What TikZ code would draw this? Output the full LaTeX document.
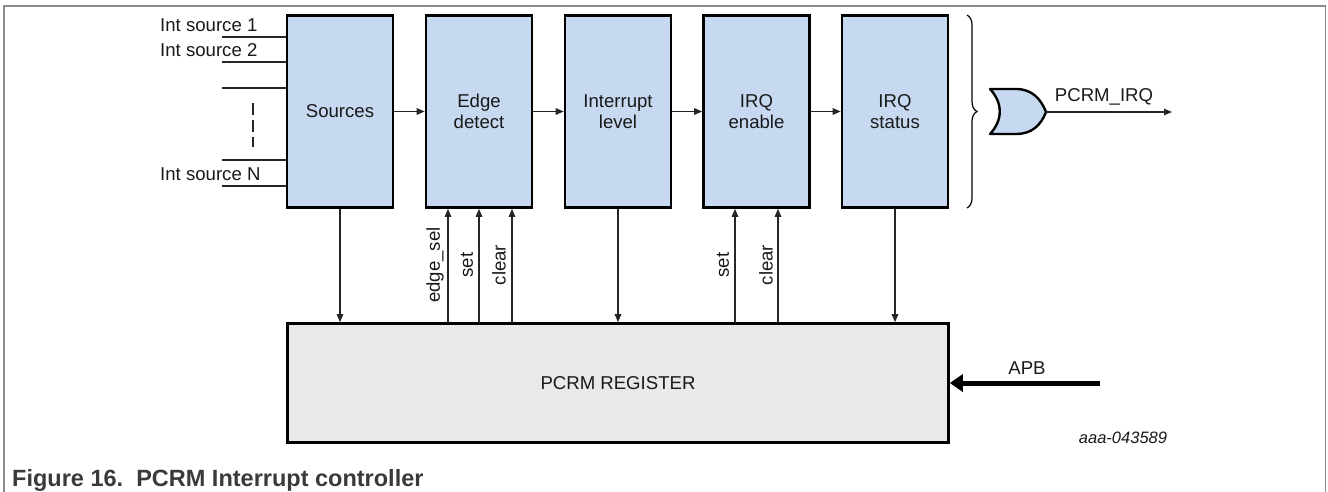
\documentclass[tikz,border=0pt]{standalone}
\usepackage{fontspec}
\setmainfont{Liberation Sans}
\usetikzlibrary{arrows.meta,decorations.pathreplacing}
\definecolor{blkblue}{HTML}{C6D9F0}
\definecolor{reggray}{HTML}{E8E9E8}
\definecolor{framegray}{HTML}{8C8C8C}
\definecolor{captxt}{HTML}{3A3A3A}
\begin{document}
\begin{tikzpicture}[x=1pt,y=-1pt,
  every node/.style={font=\fontsize{18.6}{21}\selectfont, text=black!90},
  blk/.style={draw=black, line width=2.6pt, fill=blkblue, minimum width=106pt, minimum height=192pt, inner sep=0pt, align=center},
  regbox/.style={draw=black, line width=2.6pt, fill=reggray, minimum width=661pt, minimum height=119pt, inner sep=0pt},
  conn/.style={line width=1.3pt, draw=black!85},
  arr/.style={conn, -{Triangle[length=8pt,width=6.5pt]}},
  vlabel/.style={rotate=90, inner sep=0pt}
]
\useasboundingbox (0,0) rectangle (1328,492);
% frame
\draw[framegray, line width=1.5pt] (4,492) -- (4,6) -- (1325.5,6) -- (1325.5,492);

% blocks
\node[blk] (src) at (340,111.5) {Sources};
\node[blk] (ed)  at (479,111.5) {Edge\\detect};
\node[blk] (il)  at (618,111.5) {Interrupt\\level};
\node[blk] (ie)  at (756.5,111.5) {IRQ\\enable};
\node[blk] (is)  at (895,111.5) {IRQ\\status};
\node[regbox] (reg) at (618,383) {PCRM REGISTER};

% horizontal chain
\draw[arr] (src.east) -- (ed.west);
\draw[arr] (ed.east) -- (il.west);
\draw[arr] (il.east) -- (ie.west);
\draw[arr] (ie.east) -- (is.west);

% down arrows to register
\draw[arr] (src.south) -- (src.south |- reg.north);
\draw[arr] (il.south) -- (il.south |- reg.north);
\draw[arr] (is.south) -- (is.south |- reg.north);

% up arrows from register
\coordinate (es) at (448,323);
\coordinate (st) at (479,323);
\coordinate (cl) at (512,323);
\coordinate (st2) at (735,323);
\coordinate (cl2) at (778,323);
\draw[arr] (es) -- (es |- ed.south);
\draw[arr] (st) -- (st |- ed.south);
\draw[arr] (cl) -- (cl |- ed.south);
\draw[arr] (st2) -- (st2 |- ie.south);
\draw[arr] (cl2) -- (cl2 |- ie.south);
\node[vlabel] (les) at (435,265) {edge\_sel};
\node[vlabel] (lst) at (467,265) {set};
\node[vlabel] (lcl) at (499,265) {clear};
\node[vlabel] (lst2) at (723,265) {set};
\node[vlabel] (lcl2) at (766,265) {clear};

% inputs
\coordinate (i1) at (222,37);
\coordinate (i2) at (222,62);
\coordinate (i3) at (222,88);
\coordinate (i4) at (222,160);
\coordinate (i5) at (222,186);
\foreach \c in {i1,i2,i3,i4,i5} \draw[conn] (\c) -- (\c -| src.west);
\node[anchor=west, inner sep=0pt] (t1) at (160,25) {Int source 1};
\node[anchor=west, inner sep=0pt] (t2) at (160,50) {Int source 2};
\node[anchor=west, inner sep=0pt] (tN) at (160,174) {Int source N};
\coordinate (d1) at (253,103);
\coordinate (d2) at (253,147);
\draw[conn, dash pattern=on 12pt off 5pt] (d1) -- (d2);

% brace
\coordinate (b1) at (967,15);
\coordinate (b2) at (967,208);
\draw[line width=1.2pt, decorate, decoration={brace, amplitude=10pt}] (b1) -- (b2);

% OR gate
\draw[line width=2.4pt, fill=blkblue, line join=round]
  (990,89) -- (1016,89) .. controls (1032,89) and (1041,99) .. (1046,112)
  .. controls (1041,125) and (1032,134) .. (1016,134) -- (990,134)
  .. controls (1003,120) and (1003,103) .. (990,89) -- cycle;
\coordinate (gout) at (1046,112);
\coordinate (irq) at (1172,112);
\draw[arr] (gout) -- (irq);
\node (lirq) at (1104,97) {PCRM\_IRQ};

% APB
\coordinate (apb) at (1100,383);
\draw[line width=5pt, -{Triangle[length=13pt,width=17pt]}] (apb) -- (reg.east);
\node (lapb) at (1027,368) {APB};

\node[font=\itshape\fontsize{16.5}{19}\selectfont] (code) at (1123,438) {aaa-043589};

% caption
\node[anchor=base west, inner sep=0pt, font=\bfseries\fontsize{23.5}{28}\selectfont, text=captxt] (cap) at (12,486) {Figure 16.\ \ PCRM Interrupt controller};
\end{tikzpicture}
\end{document}
